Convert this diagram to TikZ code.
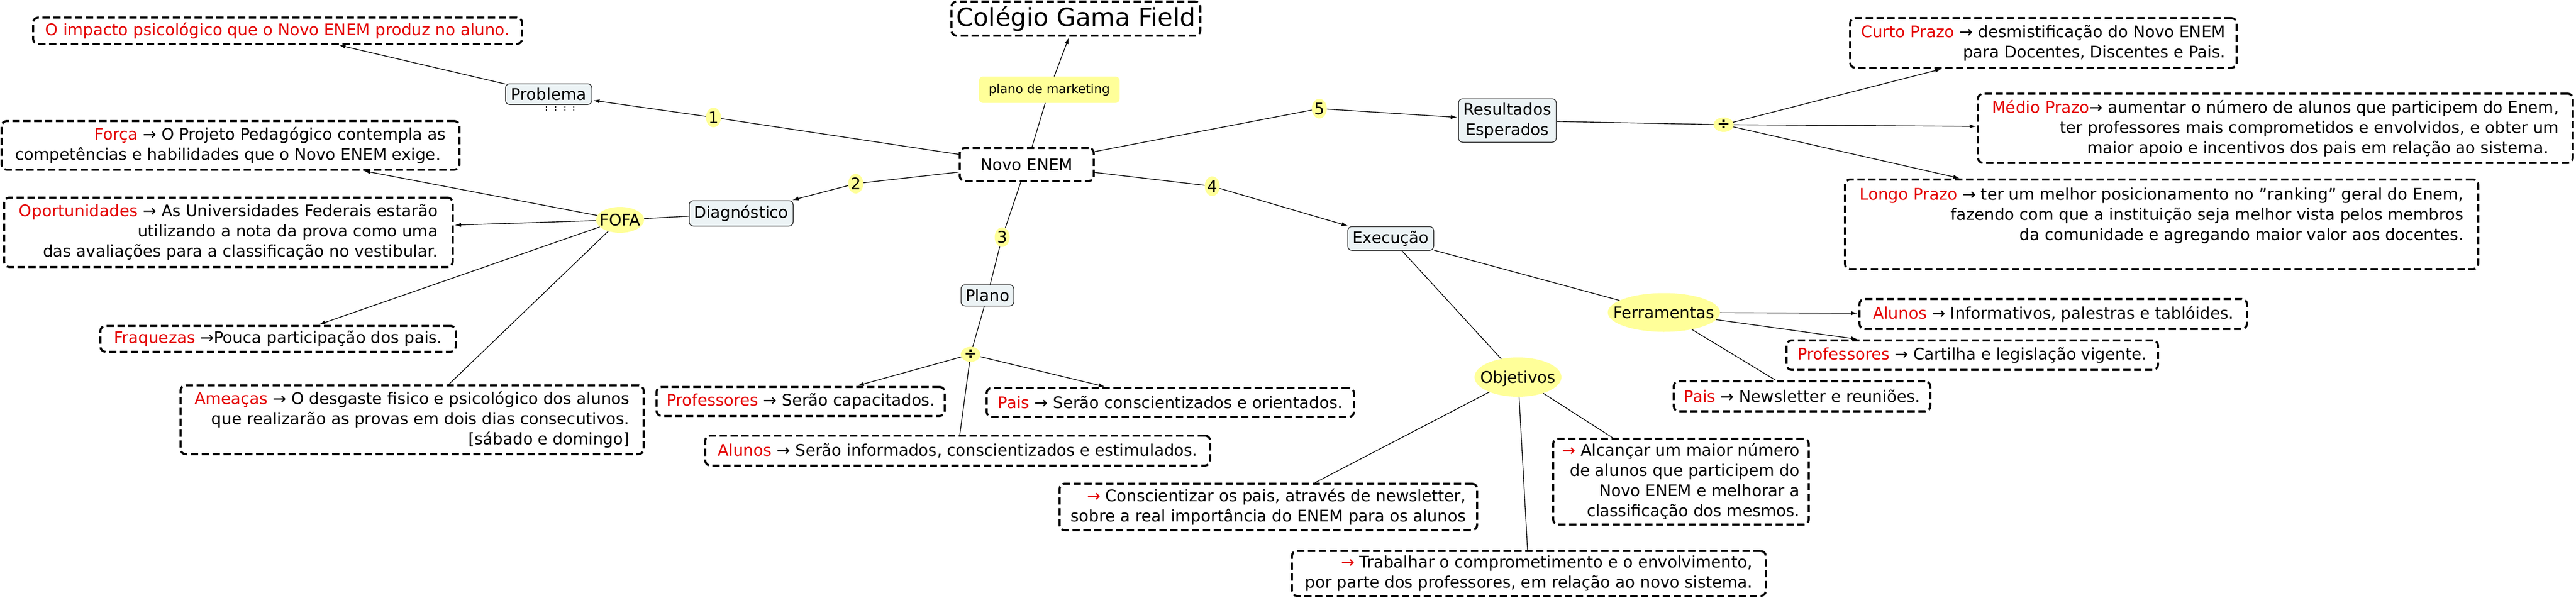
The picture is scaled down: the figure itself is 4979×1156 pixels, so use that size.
\documentclass[tikz,border=0pt]{standalone}
\usepackage{fontspec}
\setmainfont{DejaVu Sans}
\usetikzlibrary{shapes.geometric,arrows.meta}
\definecolor{redt}{RGB}{228,0,0}
\definecolor{yel}{RGB}{255,255,153}
\definecolor{cfill}{RGB}{236,243,245}
\definecolor{cline}{RGB}{50,50,50}
\newcommand{\R}[1]{\textcolor{redt}{#1}}
\newcommand{\ctr}[1]{\makebox[0pt]{\raisebox{-0.36em}[0pt][0pt]{#1}}}
\newcommand{\fs}{\fontsize{31}{39}\selectfont}
\newcommand{\dv}{\makebox[0pt]{\raisebox{-0.28em}[0pt][0pt]{\fontsize{30}{34}\selectfont\bfseries ÷}}}
\tikzset{
  dbox/.style={draw, line width=4pt, dash pattern=on 14pt off 7pt, rounded corners=10pt,
               inner sep=0pt, align=right, font=\fs},
  cbox/.style={draw=cline, line width=1.5pt, fill=cfill, rounded corners=8pt,
               inner sep=0pt, align=center, font=\fs},
  ylbl/.style={ellipse, fill=yel, inner sep=0pt, font=\fs},
  yrect/.style={fill=yel, rounded corners=8pt, inner sep=0pt},
  conn/.style={line width=1.4pt},
  arr/.style={conn, -{Latex[length=12pt,width=8pt]}, shorten >=2pt},
  hidmark/.style={line width=2pt, dash pattern=on 3.5pt off 2.5pt},
}
\begin{document}
\begin{tikzpicture}[x=1pt,y=-1pt]
\useasboundingbox (0,0) rectangle (4979,1156);

% ---- centre ----
\node[dbox, font=\fontsize{48}{56}\selectfont, align=center, minimum width=481pt, minimum height=66pt] (title) at (2079.5,36) {Colégio Gama Field};
\node[yrect, font=\fontsize{24}{28}\selectfont, minimum width=272pt, minimum height=51pt] (mkt) at (2028,173.5) {plano de marketing};
\node[dbox, align=center, minimum width=259pt, minimum height=64pt] (novo) at (1984.5,318) {Novo ENEM};

\node[ylbl, minimum width=29pt, minimum height=38pt] (l1) at (1379,227) {\ctr{1}};
\node[ylbl, minimum width=29pt, minimum height=38pt] (l2) at (1654,355) {\ctr{2}};
\node[ylbl, minimum width=29pt, minimum height=38pt] (l3) at (1937,458.5) {\ctr{3}};
\node[ylbl, minimum width=29pt, minimum height=38pt] (l4) at (2343,360) {\ctr{4}};
\node[ylbl, minimum width=29pt, minimum height=38pt] (l5) at (2550,210) {\ctr{5}};

% ---- 1 Problema ----
\node[cbox, minimum width=167pt, minimum height=40pt] (problema) at (1060.5,182) {Problema};
\node[dbox, align=center, minimum width=945pt, minimum height=51pt] (impacto) at (536.5,59.5) {\R{O impacto psicológico que o Novo ENEM produz no aluno.}};
\foreach \dx in {-4.5,13,31,48.5}
  \draw[hidmark] ([xshift=\dx pt]problema.south) ++(0,2) -- ++(0,10);

% ---- 2 Diagnostico ----
\node[cbox, minimum width=201pt, minimum height=49pt] (diag) at (1432.5,412.5) {Diagnóstico};
\node[ylbl, minimum width=93pt, minimum height=50pt] (fofa) at (1198.5,425) {\ctr{FOFA}};
\node[dbox, minimum width=885pt, minimum height=94pt] (forca) at (445.5,281)
  {\R{Força} → O Projeto Pedagógico contempla as\\competências e habilidades que o Novo ENEM exige.\hspace*{10pt}};
\node[dbox, minimum width=867pt, minimum height=134pt] (oport) at (441.5,449)
  {\R{Oportunidades} → As Universidades Federais estarão\\utilizando a nota da prova como uma\\das avaliações para a classificação no vestibular.};
\node[dbox, minimum width=687pt, minimum height=50pt] (fraq) at (537.5,655)
  {\R{Fraquezas} →Pouca participação dos pais.};
\node[dbox, minimum width=895pt, minimum height=133pt] (ameacas) at (796.5,811.5)
  {\R{Ameaças} → O desgaste fisico e psicológico dos alunos\\que realizarão as provas em dois dias consecutivos.\\{[}sábado e domingo{]}};

% ---- 3 Plano ----
\node[cbox, minimum width=102pt, minimum height=41pt] (plano) at (1908.5,571) {Plano};
\node[ylbl, minimum width=38pt, minimum height=29pt] (div1) at (1876,685) {\dv};
\node[dbox, minimum width=557pt, minimum height=56pt] (profP) at (1547.5,776)
  {\R{Professores} → Serão capacitados.};
\node[dbox, minimum width=710pt, minimum height=56pt] (paisP) at (2262,778)
  {\R{Pais} → Serão conscientizados e orientados.};
\node[dbox, minimum width=976pt, minimum height=58pt] (alunosP) at (1851,871)
  {\R{Alunos} → Serão informados, conscientizados e estimulados.};

% ---- 4 Execucao ----
\node[cbox, minimum width=166pt, minimum height=46pt] (exec) at (2688,461) {Execução};
\node[ylbl, minimum width=217pt, minimum height=75pt] (ferr) at (3216,604) {\ctr{Ferramentas}};
\node[ylbl, minimum width=168pt, minimum height=76pt] (obj) at (2934,729) {\ctr{Objetivos}};
\node[dbox, minimum width=749pt, minimum height=58pt] (alunosF) at (3968.5,607)
  {\R{Alunos} → Informativos, palestras e tablóides.};
\node[dbox, minimum width=718pt, minimum height=57pt] (profF) at (3812,686.5)
  {\R{Professores} → Cartilha e legislação vigente.};
\node[dbox, minimum width=496pt, minimum height=58pt] (paisF) at (3483,766)
  {\R{Pais} → Newsletter e reuniões.};
\node[dbox, minimum width=807pt, minimum height=90pt] (consc) at (2451.5,980)
  {\R{→} Conscientizar os pais, através de newsletter,\\sobre a real importância do ENEM para os alunos};
\node[dbox, minimum width=494pt, minimum height=166pt] (alcan) at (3249,931)
  {\R{→} Alcançar um maior número\\de alunos que participem do\\Novo ENEM e melhorar a\hspace*{10pt}\\classificação dos mesmos.};
\node[dbox, minimum width=916pt, minimum height=87pt] (trab) at (2955,1108.5)
  {\R{→} Trabalhar o comprometimento e o envolvimento,\\por parte dos professores, em relação ao novo sistema.};

% ---- 5 Resultados ----
\node[cbox, minimum width=189pt, minimum height=84pt] (result) at (2913.5,233) {Resultados\\Esperados};
\node[ylbl, minimum width=39pt, minimum height=28pt] (div2) at (3331.5,241) {\dv};
\node[dbox, minimum width=747pt, minimum height=96pt] (curto) at (3949.5,83)
  {\R{Curto Prazo} → desmistificação do Novo ENEM\\para Docentes, Discentes e Pais.};
\node[dbox, minimum width=1150pt, minimum height=134pt] (medio) at (4398,248)
  {\R{Médio Prazo}→ aumentar o número de alunos que participem do Enem,\\ter professores mais comprometidos e envolvidos, e obter um\\maior apoio e incentivos dos pais em relação ao sistema.\hspace*{20pt}};
\node[dbox, minimum width=1224pt, minimum height=173pt] (longo) at (4178,433.5)
  {\R{Longo Prazo} → ter um melhor posicionamento no "ranking" geral do Enem,\\fazendo com que a instituição seja melhor vista pelos membros\\da comunidade e agregando maior valor aos docentes.\\\mbox{}};

% ---- connectors ----
\draw[conn] (novo) -- (mkt);
\draw[arr] (mkt) -- (title);
\draw[conn] (novo) -- (l1);
\draw[arr] (l1) -- (problema);
\draw[arr] (problema) -- (impacto);
\draw[conn] (novo) -- (l2);
\draw[arr] (l2) -- (diag);
\draw[conn] (diag) -- (fofa);
\draw[arr] (fofa) -- (forca);
\draw[arr] (fofa) -- (oport);
\draw[arr] (fofa) -- (fraq);
\draw[conn] (fofa) -- (ameacas);
\draw[conn] (novo) -- (l3);
\draw[conn] (l3) -- (plano);
\draw[conn] (plano) -- (div1);
\draw[arr] (div1) -- (profP);
\draw[arr] (div1) -- (paisP);
\draw[conn] (div1) -- (alunosP);
\draw[conn] (novo) -- (l4);
\draw[arr] (l4) -- (exec);
\draw[conn] (exec) -- (ferr);
\draw[conn] (exec) -- (obj);
\draw[arr] (ferr) -- (alunosF);
\draw[arr] (ferr) -- (profF);
\draw[conn] (ferr) -- (paisF);
\draw[conn] (obj) -- (consc);
\draw[conn] (obj) -- (trab);
\draw[conn] (obj) -- (alcan);
\draw[conn] (novo) -- (l5);
\draw[arr] (l5) -- (result);
\draw[conn] (result) -- (div2);
\draw[arr] (div2) -- (curto);
\draw[arr] (div2) -- (medio);
\draw[arr] (div2) -- (longo);
\end{tikzpicture}
\end{document}
